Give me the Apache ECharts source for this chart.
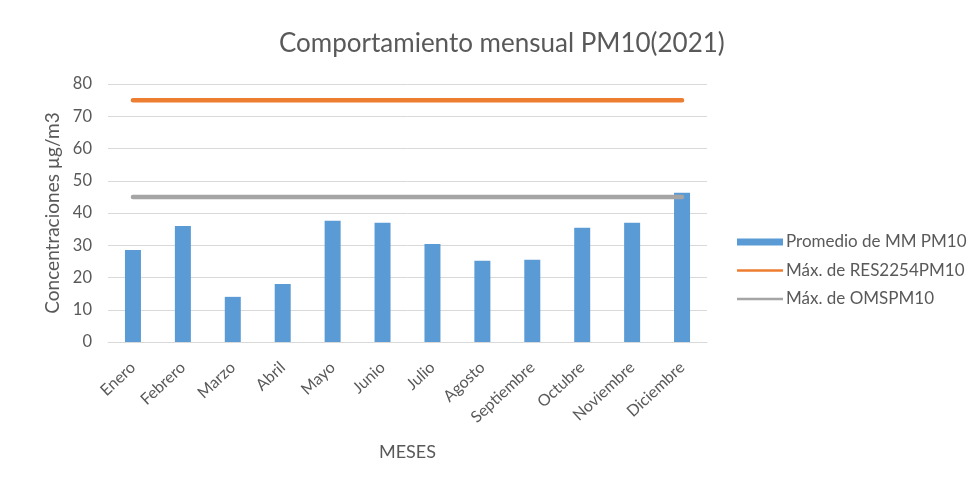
<!DOCTYPE html>
<html>
<head>
<meta charset="utf-8">
<script src="https://cdn.jsdelivr.net/npm/echarts@6/dist/echarts.min.js"></script>
<style>
  html, body { margin: 0; padding: 0; background: #ffffff; }
  #chart { width: 971px; height: 485px; }
</style>
</head>
<body>
<div id="chart"></div>
<script>
// Monthly PM10 averages and the two reference limits
const months = ['Enero', 'Febrero', 'Marzo', 'Abril', 'Mayo', 'Junio', 'Julio', 'Agosto', 'Septiembre', 'Octubre', 'Noviembre', 'Diciembre'];
const promedioPM10 = [28.5, 36.0, 14.0, 18.0, 37.6, 37.0, 30.4, 25.2, 25.5, 35.4, 37.0, 46.3];
const maxRES2254 = [75, 75, 75, 75, 75, 75, 75, 75, 75, 75, 75, 75];
const maxOMS = [45, 45, 45, 45, 45, 45, 45, 45, 45, 45, 45, 45];
const yTicks = [0, 10, 20, 30, 40, 50, 60, 70, 80];

const FONT = 'Lato, "Open Sans", sans-serif';
const TEXT = '#595959';

const chart = echarts.init(document.getElementById('chart'), null, { renderer: 'canvas' });
chart.setOption({
  animation: false,
  backgroundColor: '#ffffff',
  title: {
    text: 'Comportamiento mensual PM10(2021)',
    left: 274,
    top: 26,
    textStyle: { fontFamily: FONT, fontSize: 26, fontWeight: 'normal', color: TEXT }
  },
  legend: {
    orient: 'vertical',
    left: 737,
    top: 233,
    padding: 0,
    itemGap: 10.5,
    itemWidth: 46,
    itemHeight: 10,
    textStyle: { fontFamily: FONT, fontSize: 17, lineHeight: 18, color: TEXT, padding: [0, 0, 0, -2] },
    data: [
      { name: 'Promedio de MM PM10', icon: 'path://M0,1.5 L46,1.5 L46,8.5 L0,8.5 Z' },
      { name: 'Máx. de RES2254PM10', icon: 'path://M0,3.8 L46,3.8 L46,6.2 L0,6.2 Z' },
      { name: 'Máx. de OMSPM10', icon: 'path://M0,3.8 L46,3.8 L46,6.2 L0,6.2 Z' }
    ]
  },
  grid: { left: 108, right: 264, top: 84, bottom: 143 },
  xAxis: {
    type: 'category',
    data: months,
    name: 'MESES',
    nameLocation: 'middle',
    nameGap: 101,
    nameTextStyle: { fontFamily: FONT, fontSize: 18, color: TEXT },
    axisLine: { show: true, lineStyle: { color: '#d9d9d9', width: 1 } },
    axisTick: { show: false },
    axisLabel: { rotate: 43, fontFamily: FONT, fontSize: 16, color: TEXT, margin: 23, interval: 0 }
  },
  yAxis: {
    type: 'value',
    min: yTicks[0],
    max: yTicks[yTicks.length - 1],
    interval: 10,
    name: 'Concentraciones µg/m3',
    nameLocation: 'middle',
    nameGap: 46,
    nameTextStyle: { fontFamily: FONT, fontSize: 19, color: TEXT },
    axisLine: { show: false },
    axisTick: { show: false },
    axisLabel: { fontFamily: FONT, fontSize: 16.5, color: TEXT, margin: 16 },
    splitLine: { lineStyle: { color: '#d9d9d9', width: 1 } }
  },
  series: [
    {
      name: 'Promedio de MM PM10',
      type: 'bar',
      data: promedioPM10,
      barWidth: 16,
      itemStyle: { color: '#5b9bd5' }
    },
    {
      name: 'Máx. de RES2254PM10',
      type: 'line',
      data: maxRES2254,
      symbol: 'none',
      lineStyle: { color: '#ed7d31', width: 4.5, cap: 'round' },
      itemStyle: { color: '#ed7d31' }
    },
    {
      name: 'Máx. de OMSPM10',
      type: 'line',
      data: maxOMS,
      symbol: 'none',
      lineStyle: { color: '#a5a5a5', width: 4.5, cap: 'round' },
      itemStyle: { color: '#a5a5a5' }
    }
  ]
});
</script>
</body>
</html>
